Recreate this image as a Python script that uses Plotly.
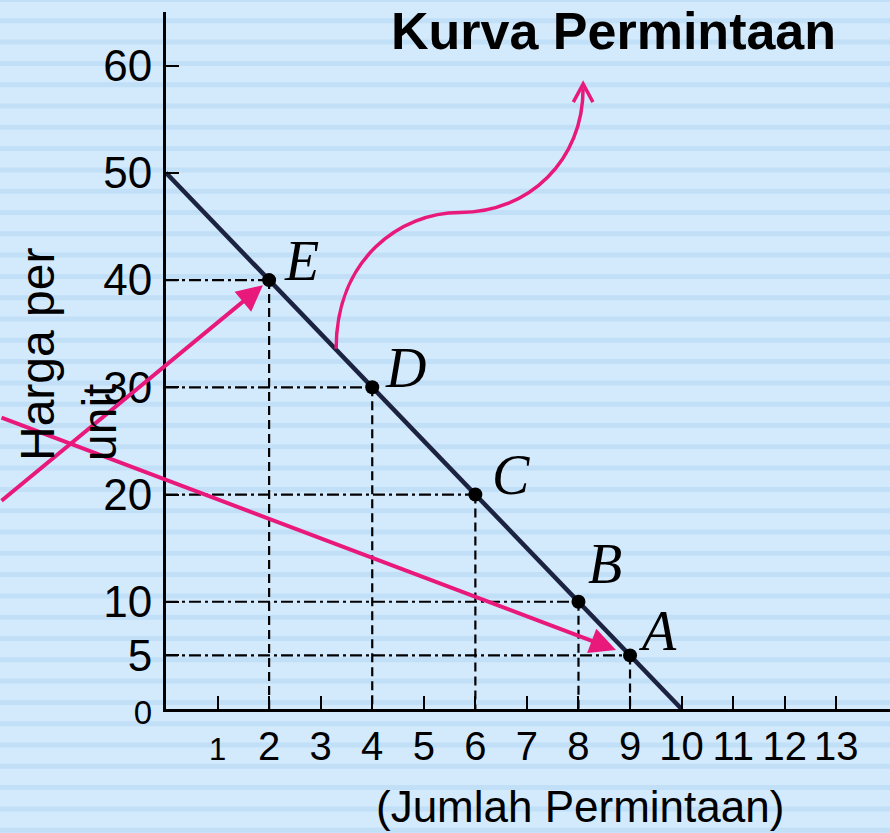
import plotly.graph_objects as go

# ---------------- data ----------------
point_labels = ["A", "B", "C", "D", "E"]
quantity = [9, 8, 6, 4, 2]          # Jumlah Permintaan
price = [5, 10, 20, 30, 40]         # Harga per unit
demand_q = [0, 10]                  # demand line end points
demand_p = [50, 0]
x_tickvals = list(range(1, 14))
x_ticktext = [str(v) for v in x_tickvals]
y_tickvals = [0, 5, 10, 20, 30, 40, 50, 60]
y_ticktext = [str(v) for v in y_tickvals]

# label offsets (px) relative to the point
label_dx = [27, 27, 36, 33, 32]
label_dy = [24, 38, 20, 19, 19]

# curved pointer (data units) from the demand line to the title
curve_start = (3.3, 33.6)
curve_c1 = (3.3, 42.0)
curve_c2 = (4.55, 46.3)
curve_mid = (5.7, 46.3)
curve_c3 = (7.05, 46.3)
curve_c4 = (8.09, 51.2)
curve_end = (8.09, 57.9)
chevron = [(7.90, 56.6), (8.09, 58.3), (8.28, 56.6)]

# ---------------- geometry ----------------
W, H = 890, 833
ML, MR, MT, MB = 166, 0, 12, 124
PW = W - ML - MR
PH = H - MT - MB
X_MAX = PW / 51.56
Y_MAX = 65

PINK = "#e8197a"
NAVY = "#1c2341"
BG = "#d3eafd"
STRIPE = "#c2dff8"
SANS = "Liberation Sans, Arial, sans-serif"

fig = go.Figure()

# guide lines
hx, hy, vx, vy = [], [], [], []
for q, p in zip(quantity, price):
    hx += [0, q, None]
    hy += [p, p, None]
    vx += [q, q, None]
    vy += [p, 0, None]
fig.add_trace(go.Scatter(x=hx, y=hy, mode="lines",
                         line=dict(color="black", width=2.2, dash="12px,4px,3px,4px"),
                         hoverinfo="skip", showlegend=False))
fig.add_trace(go.Scatter(x=vx, y=vy, mode="lines",
                         line=dict(color="black", width=2.2, dash="9px,5px"),
                         hoverinfo="skip", showlegend=False))

# demand curve
fig.add_trace(go.Scatter(x=demand_q, y=demand_p, mode="lines",
                         line=dict(color=NAVY, width=4.5), showlegend=False))
# points
fig.add_trace(go.Scatter(x=quantity, y=price, mode="markers",
                         marker=dict(color="black", size=14), showlegend=False))

annotations = []
for lab, q, p, dx, dy in zip(point_labels, quantity, price, label_dx, label_dy):
    annotations.append(dict(x=q, y=p, xref="x", yref="y", text=lab, showarrow=False,
                            xshift=dx, yshift=dy,
                            font=dict(family="Liberation Serif, Times New Roman, serif",
                                      size=56, style="italic", color="black")))

# pink straight arrows (E and A)
def px_of(q, p):
    return ML + q / X_MAX * PW, MT + (1 - p / Y_MAX) * PH

ex, ey = px_of(quantity[4], price[4])
annotations.append(dict(x=quantity[4], y=price[4], xref="x", yref="y", text="",
                        showarrow=True, axref="pixel", ayref="pixel",
                        ax=0 - ex, ay=502 - ey, arrowhead=2, arrowsize=1.3,
                        arrowwidth=4, arrowcolor=PINK, standoff=8))
ax_, ay_ = px_of(quantity[0], price[0])
annotations.append(dict(x=quantity[0], y=price[0], xref="x", yref="y", text="",
                        showarrow=True, axref="pixel", ayref="pixel",
                        ax=0 - ax_, ay=417 - ay_, arrowhead=2, arrowsize=1.3,
                        arrowwidth=4, arrowcolor=PINK, standoff=15))

# title & axis titles
annotations.append(dict(x=(613 - ML) / PW, y=(H - MB - 31) / PH, xref="paper", yref="paper",
                        text="<b>Kurva Permintaan</b>", showarrow=False,
                        xanchor="center", yanchor="middle", borderpad=0,
                        font=dict(family=SANS, size=52, color="black")))
annotations.append(dict(x=(580 - ML) / PW, y=(H - MB - 806) / PH, xref="paper", yref="paper",
                        text="(Jumlah Permintaan)", showarrow=False,
                        xanchor="center", yanchor="middle",
                        font=dict(family=SANS, size=44, color="black")))
annotations.append(dict(x=(68 - ML) / PW, y=(H - MB - 355) / PH, xref="paper", yref="paper",
                        text="Harga per<br>unit", showarrow=False, textangle=-90,
                        align="left", xanchor="center", yanchor="middle",
                        font=dict(family=SANS, size=48, color="black")))

# shapes: background stripes, curved pointer
shapes = []
k = -1
while True:
    c = 20.8 + 21.3 * k
    if c - 3 > H:
        break
    y0 = (H - MB - (c - 2.5)) / PH
    y1 = (H - MB - (c + 2.5)) / PH
    shapes.append(dict(type="rect", xref="paper", yref="paper", x0=-ML / PW, x1=1.0,
                       y0=y1, y1=y0, fillcolor=STRIPE, line=dict(width=0), layer="below"))
    k += 1

path = (f"M {curve_start[0]},{curve_start[1]} "
        f"C {curve_c1[0]},{curve_c1[1]} {curve_c2[0]},{curve_c2[1]} {curve_mid[0]},{curve_mid[1]} "
        f"C {curve_c3[0]},{curve_c3[1]} {curve_c4[0]},{curve_c4[1]} {curve_end[0]},{curve_end[1]}")
shapes.append(dict(type="path", xref="x", yref="y", path=path,
                   line=dict(color=PINK, width=3.5)))
chev = "M " + " L ".join(f"{a},{b}" for a, b in chevron)
shapes.append(dict(type="path", xref="x", yref="y", path=chev,
                   line=dict(color=PINK, width=3.5)))

x_ticktext_fmt = [f"<span style='font-size:31px'>{t}</span>" if t == "1" else t for t in x_ticktext]
y_ticktext_fmt = [f"<span style='font-size:33px'>{t}</span>" if t == "0" else t for t in y_ticktext]

fig.update_layout(
    width=W, height=H,
    margin=dict(l=ML, r=MR, t=MT, b=MB, pad=0),
    paper_bgcolor=BG, plot_bgcolor="rgba(0,0,0,0)",
    showlegend=False,
    annotations=annotations, shapes=shapes,
    xaxis=dict(range=[0, X_MAX], showline=True, linecolor="black", linewidth=3,
               ticks="inside", ticklen=13, tickwidth=2, tickcolor="black",
               tickvals=x_tickvals, ticktext=x_ticktext_fmt, ticklabelstandoff=0,
               tickfont=dict(family=SANS, size=40, color="black"),
               showgrid=False, zeroline=False, fixedrange=True),
    yaxis=dict(range=[0, Y_MAX], showline=True, linecolor="black", linewidth=3,
               ticks="inside", ticklen=13, tickwidth=2, tickcolor="black",
               tickvals=y_tickvals, ticktext=y_ticktext_fmt, ticklabelstandoff=2,
               tickfont=dict(family=SANS, size=44, color="black"),
               showgrid=False, zeroline=False, fixedrange=True),
)

fig.write_html("out.html", config={"displayModeBar": False},
               post_script="document.body.style.margin='0';document.body.style.overflow='hidden';")
